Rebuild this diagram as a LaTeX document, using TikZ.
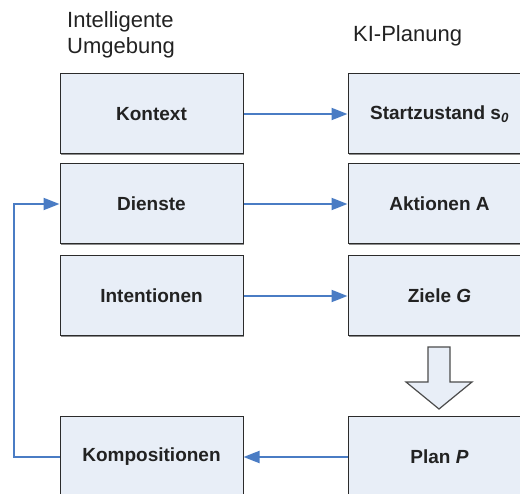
\documentclass[tikz,border=0pt]{standalone}
\usepackage{fontspec}
\setmainfont{Liberation Sans}
\usetikzlibrary{arrows.meta,shadows}
\definecolor{boxfill}{HTML}{E8EEF7}
\definecolor{boxline}{HTML}{2B2B2B}
\definecolor{flow}{HTML}{4A7CC4}
\definecolor{txt}{HTML}{222222}
\begin{document}
\begin{tikzpicture}[x=1pt,y=-1pt,
  block/.style={rectangle, draw=boxline, line width=1pt, fill=boxfill,
    minimum width=183pt, minimum height=80pt, inner sep=0pt,
    text=txt, font=\fontsize{19}{22}\selectfont\bfseries,
    general shadow={fill=black!45, shadow xshift=1.2pt, shadow yshift=-1.2pt}},
  head/.style={inner sep=0pt, text=txt, font=\fontsize{22}{26}\selectfont},
  link/.style={draw=flow, line width=2pt,
    -{Triangle[length=16pt,width=12pt]}}]
  \useasboundingbox (0,0) rectangle (520,494);
  \clip (0,0) rectangle (520,494);

  % column headings
  \node[head, anchor=north west, align=left] (hleft) at (67,11.5)
    {Intelligente\\Umgebung};
  \node[head, anchor=base west] (hright) at (353,42) {KI-Planung};

  % left column
  \node[block] (kontext) at (151.5,114) {Kontext};
  \node[block] (dienste) at (151.5,204) {Dienste};
  \node[block] (intent)  at (151.5,296) {Intentionen};
  \node[block] (komp)    at (151.5,457) {Kompositionen};

  % right column
  \node[block] (start)  at (439.5,114) {Startzustand s\textsubscript{\itshape 0}};
  \node[block] (akt)    at (439.5,204) {Aktionen A};
  \node[block] (ziele)  at (439.5,296) {Ziele \textit{G}};
  \node[block] (plan)   at (439.5,457) {Plan \textit{P}};

  % mappings
  \draw[link] (kontext) -- (start);
  \draw[link] (dienste) -- (akt);
  \draw[link] (intent) -- (ziele);
  \draw[link] (plan) -- (komp);
  \draw[link] (komp.west) -- ++(-46,0) |- (dienste.west);

  % planning step
  \draw[draw=black!70, line width=1.2pt, fill=boxfill]
    (428,347) -- (450,347) -- (450,382) -- (472,382) -- (439,409)
    -- (406,382) -- (428,382) -- cycle;
\end{tikzpicture}
\end{document}
